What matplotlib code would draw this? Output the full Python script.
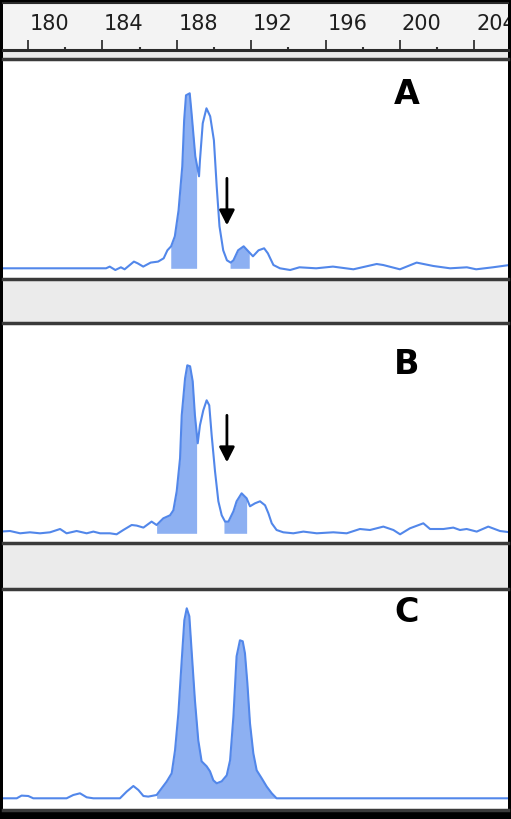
import numpy as np
import matplotlib
matplotlib.use("Agg")
import matplotlib.pyplot as plt
from matplotlib.patches import Rectangle

# fragment size (bp) and peak height for each trace
bp_a = [178.5, 184.2, 184.4, 184.7, 185.0, 185.2, 185.7, 185.9, 186.2, 186.6, 187.0,
        187.3, 187.5, 187.7, 187.9, 188.1, 188.3, 188.4, 188.5, 188.7, 188.8, 189.0,
        189.2, 189.25, 189.4, 189.6, 189.8, 190.0, 190.15, 190.3, 190.5, 190.7, 190.9,
        191.05, 191.3, 191.6, 191.85, 192.1, 192.4, 192.7, 192.9, 193.2, 193.55, 194.1,
        194.6, 195.5, 196.4, 197.5, 198.75, 199.1, 200.0, 200.9, 201.8, 202.7, 203.6,
        204.1, 205.0, 205.9]
rfu_a = [0, 0, 1.7, -1.7, 1, -1, 6.7, 5, 1.7, 5.7, 6.7,
         10, 18, 22, 32, 58, 102, 148, 173, 175, 155, 112,
         92, 108, 145, 160, 152, 128, 82, 42, 18, 8, 5.7,
         8, 18, 22, 17, 12, 18, 20, 15, 3.3, 0, -1.7,
         1, 0, 1.7, -1, 4.3, 3.3, -1, 5.7, 2.3, 0, 1,
         -1, 1, 3.3]

bp_b = [178.5, 179.04, 179.58, 180.11, 180.65, 181.19, 181.73, 182.08, 182.62, 183.16,
        183.52, 183.88, 184.41, 184.77, 185.13, 185.58, 185.85, 186.21, 186.65, 186.92,
        187.28, 187.64, 187.82, 188.0, 188.18, 188.27, 188.45, 188.57, 188.72, 188.86,
        188.98, 189.13, 189.25, 189.43, 189.61, 189.75, 189.88, 190.06, 190.24, 190.42,
        190.6, 190.78, 191.05, 191.22, 191.49, 191.76, 191.94, 192.21, 192.48, 192.75,
        192.93, 193.11, 193.37, 193.73, 194.27, 194.81, 195.53, 196.42, 197.14, 197.85,
        198.39, 199.11, 199.65, 200.01, 200.54, 201.26, 201.62, 202.34, 202.87, 203.23,
        203.59, 204.13, 204.75, 205.38, 205.92]
rfu_b = [1.7, 2.3, 0, 1, 0, 1, 4.3, 0, 2.3, 0,
         1.7, 0, 0, -1, 3.3, 8.3, 7.7, 5.7, 11.7, 8.3,
         15, 18, 23, 42, 75, 118, 155, 168, 167, 152,
         118, 90, 108, 123, 133, 128, 98, 62, 32, 18,
         11.7, 11.7, 22, 32, 40, 35, 27, 30, 32, 28,
         20, 10, 3.3, 1, 0, 1.7, 0, 1, 0, 4.3,
         3.3, 6.7, 3.3, -1, 5, 10, 4.3, 4.3, 5.7, 3.3,
         4.3, 1.7, 6.7, 2.3, 1]

bp_c = [178.5, 179.4, 179.66, 180.02, 180.29, 182.08, 182.44, 182.8, 183.16, 183.52,
        184.95, 185.31, 185.67, 185.94, 186.21, 186.47, 186.92, 187.19, 187.46, 187.73,
        187.91, 188.09, 188.27, 188.41, 188.54, 188.68, 188.8, 188.98, 189.16, 189.34,
        189.61, 189.79, 189.97, 190.15, 190.42, 190.69, 190.87, 191.05, 191.22, 191.4,
        191.55, 191.67, 191.8, 191.94, 192.12, 192.3, 192.57, 192.84, 193.11, 193.37,
        205.92]
rfu_c = [0, 0, 2.7, 2.3, 0, 0, 3.3, 5, 1, 0,
         0, 6.7, 12.3, 8.3, 2.3, 1.7, 3.3, 10, 16.7, 25,
         48, 85, 138, 178, 190, 182, 148, 98, 58, 37,
         32, 27, 18, 15, 17, 23, 38, 82, 142, 158,
         157, 145, 115, 75, 45, 28, 20, 11.7, 5, 0,
         0]

# shaded (called) peak regions, in bp
fills_a = [(187.68, 189.07), (190.87, 191.9)]
fills_b = [(186.92, 189.07), (190.54, 191.76)]
fills_c = [(186.92, 193.37)]

ruler_major = [176, 180, 184, 188, 192, 196, 200, 204]
ruler_minor = [178, 182, 186, 190, 194, 198, 202, 206]

panels = [("A", bp_a, rfu_a, fills_a, (190.7, 90, 43)),
          ("B", bp_b, rfu_b, fills_b, (190.7, 118, 71)),
          ("C", bp_c, rfu_c, fills_c, None)]

LINE = "#5287ea"
FILL = "#8db0f2"
W, H = 511, 819
PX = 18.6          # pixels per bp
X0 = 178.5         # bp at pixel 0


def rect(x0, y0, x1, y1):
    return [x0 / W, 1 - y1 / H, (x1 - x0) / W, (y1 - y0) / H]


fig = plt.figure(figsize=(W / 100, H / 100), dpi=100, facecolor="black")
fig.patches.append(Rectangle((3 / W, 1 - 810 / H), 505 / W, 807 / H,
                             transform=fig.transFigure, facecolor="#ebebeb",
                             edgecolor="none", zorder=-5))
xlim = (X0 + 3 / PX, X0 + 508 / PX)

# size ruler
ax = fig.add_axes(rect(3, 3, 508, 50))
ax.set_facecolor("#f3f3f3")
ax.set_yticks([])
ax.set_xticks(ruler_major)
ax.set_xticks(ruler_minor, minor=True)
ax.set_xlim(xlim)   # after set_xticks, which would widen the view
ax.set_ylim(0, 1)
ax.tick_params(axis="x", which="major", direction="in", length=7, width=1.3,
               color="#333333", labelbottom=False)
ax.tick_params(axis="x", which="minor", direction="in", length=2, width=1.5,
               color="#333333")
for s in ("left", "right"):
    ax.spines[s].set_visible(False)
ax.spines["bottom"].set_linewidth(2.2)
ax.spines["bottom"].set_color("#2a2a2a")
ax.spines["top"].set_linewidth(1.5)
ax.spines["top"].set_color("#2a2a2a")
for t in ruler_major:
    ax.text(t + 0.1, 0.55, str(t), ha="left", va="center", fontsize=15,
            color="#1e1e1e", clip_on=True)

tops = [59, 323, 589]
bottoms = [279, 543, 810]
baselines = [268.3, 533.3, 798.3]
label_y = [95, 365, 612]

for (label, xs, ys, fills, arrow), top, bot, base, ly in zip(panels, tops, bottoms,
                                                             baselines, label_y):
    ax = fig.add_axes(rect(3, top, 508, bot))
    x = np.array(xs)
    y = np.array(ys)
    ax.set_xlim(xlim)
    ax.set_ylim(-(bot - base), base - top)
    for lo, hi in fills:
        m = (x > lo) & (x < hi)
        fx = np.concatenate([[lo], x[m], [hi]])
        fy = np.concatenate([[np.interp(lo, x, y)], y[m], [np.interp(hi, x, y)]])
        ax.fill_between(fx, 0, fy, color=FILL, lw=0, zorder=1)
    ax.plot(x, y, color=LINE, lw=1.5, zorder=2)
    ax.set_xticks([])
    ax.set_yticks([])
    for s in ("left", "right"):
        ax.spines[s].set_visible(False)
    for s in ("top", "bottom"):
        ax.spines[s].set_linewidth(2.5)
        ax.spines[s].set_color("#3a3a3a")
    ax.text(0.80, base - ly, label,
            transform=ax.get_yaxis_transform(), ha="center", va="center",
            fontsize=24, fontweight="bold", color="black")
    if arrow is not None:
        ax_x, y0, y1 = arrow
        ax.annotate("", xy=(ax_x, y1), xytext=(ax_x, y0),
                    arrowprops=dict(arrowstyle="-|>,head_length=0.45,head_width=0.23",
                                    mutation_scale=20, lw=2.0, color="black",
                                    shrinkA=0, shrinkB=0))

fig.savefig("out.png", dpi=100, facecolor=fig.get_facecolor())
plt.close(fig)
